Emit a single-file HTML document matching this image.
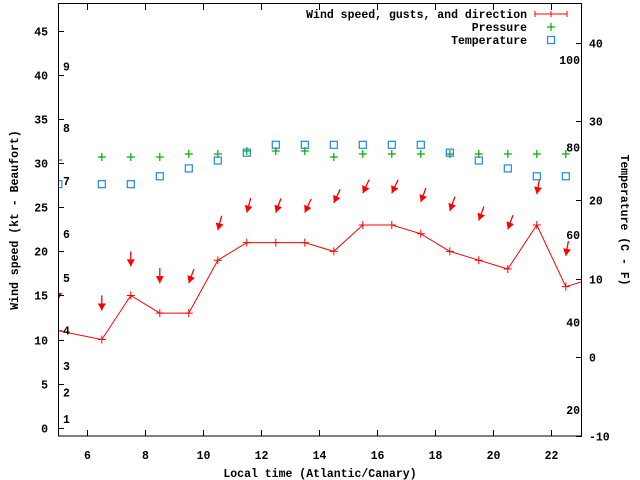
<!DOCTYPE html>
<html><head><meta charset="utf-8"><style>
html,body{margin:0;padding:0;background:#fff;}
svg{display:block;font-family:"Liberation Mono",monospace;font-weight:bold;font-size:11.5px;}
</style></head><body>
<svg id="chart" width="640" height="480" viewBox="0 0 640 480" xmlns="http://www.w3.org/2000/svg">
<defs><clipPath id="pc"><rect x="58" y="3" width="524" height="433"/></clipPath></defs>
<rect x="0" y="0" width="640" height="480" fill="#fff"/>
<g id="plot" clip-path="url(#pc)"></g>
<g id="axes"></g>
<text x="0" y="0" transform="translate(18,220) rotate(-90)" text-anchor="middle">Wind speed (kt - Beaufort)</text>
<text x="0" y="0" transform="translate(621,220) rotate(90)" text-anchor="middle">Temperature (C - F)</text>
<text x="320" y="477" text-anchor="middle">Local time (Atlantic/Canary)</text>
<g>
<text x="527" y="18" text-anchor="end">Wind speed, gusts, and direction</text>
<path d="M535 14H567M535 11V17M567 11V17M551 11V17" stroke="#f00" stroke-width="1"/>
<text x="527" y="31" text-anchor="end">Pressure</text>
<path d="M547 27H555M551 23V31" stroke="#00b000" stroke-width="1.2"/>
<text x="527" y="44" text-anchor="end">Temperature</text>
<rect x="547.5" y="36.5" width="7" height="7" fill="none" stroke="#1e88e5" stroke-width="1.2"/>
</g>
</svg>
<script>
const times = [5,6.5,7.5,8.5,9.5,10.5,11.5,12.5,13.5,14.5,15.5,16.5,17.5,18.5,19.5,20.5,21.5,22.5,23.5];
const windSpeed = [11,10,15,13,13,19,21,21,21,20,23,23,22,20,19,18,23,16,17];
const gusts = [14.5,13.3,18.3,16.4,16.4,22.4,24.4,24.4,24.4,25.5,26.6,26.6,25.6,24.6,23.5,22.5,26.5,19.5,null];
const windDir = [0,0,0,0,20,15,15,20,25,25,25,25,20,20,20,20,10,10,null];
const pressure = [1015,1016,1016,1016,1017,1017,1018,1018,1018,1016,1017,1017,1017,1017,1017,1017,1017,1017,null];
const temperature = [22,22,22,23,24,25,26,27,27,27,27,27,27,26,25,24,23,23,null];
const xTicks = [6,8,10,12,14,16,18,20,22];
const yTicks = [0,5,10,15,20,25,30,35,40,45];
const tTicks = [-10,0,10,20,30,40];
const fTicks = [20,40,60,80,100];
const beaufort = [1,4,7,11,17,22,28,34,41];

const NS='http://www.w3.org/2000/svg';
const X = t => 58.3 + (t-5)*29;
const Y = v => 427.7 - v*8.815;
const YT = c => 357.3 - c*7.87;
const YP = p => 157 - (p-1016)*3;
const plot = document.getElementById('plot');
const axes = document.getElementById('axes');
function mk(tag, attrs, parent){const e=document.createElementNS(NS,tag);for(const k in attrs)e.setAttribute(k,attrs[k]);parent.appendChild(e);return e;}

let d='';
times.forEach((t,i)=>{d+=(i?'L':'M')+X(t).toFixed(1)+' '+Y(windSpeed[i]).toFixed(1);});
const wl=mk('path',{d:d,fill:'none',stroke:'#f00','stroke-width':1},plot);


times.forEach((t,i)=>{
  const x=X(t),y=Y(windSpeed[i]);
  const p=mk('path',{d:`M${x-4} ${y}H${x+4}M${x} ${y-4}V${y+4}`,stroke:'#f00','stroke-width':1},plot);
  
  
  if(gusts[i]!==null){
    const gy=Y(gusts[i]);const a=windDir[i]*Math.PI/180;const L=15;
    const tx=x+Math.sin(a)*L, ty=gy-Math.cos(a)*L;
    const ux=Math.sin(a), uy=-Math.cos(a);
    const px=-uy, py=ux;
    const bx=x+ux*7, by=gy+uy*7;
    const g=mk('g',{},plot);
    
    
    mk('line',{x1:tx,y1:ty,x2:x,y2:gy,stroke:'#f00','stroke-width':1.3},g);
    mk('path',{d:`M${x} ${gy}L${bx+px*4} ${by+py*4}L${bx-px*4} ${by-py*4}Z`,fill:'#f00'},g);
  }
  if(pressure[i]!==null){
    const py2=YP(pressure[i]);
    const pp=mk('path',{d:`M${x-4} ${py2}H${x+4}M${x} ${py2-4}V${py2+4}`,stroke:'#00b000','stroke-width':1.2},plot);
    
    
  }
  if(temperature[i]!==null){
    const ty2=YT(temperature[i]);
    const r=mk('rect',{x:x-3.5,y:ty2-3.5,width:7,height:7,fill:'none',stroke:'#1e88e5','stroke-width':1.2},plot);
    
    
  }
});

const fr=mk('rect',{x:58.5,y:3.5,width:523,height:432.5,fill:'none',stroke:'#000','stroke-width':1},axes);


xTicks.forEach(t=>{
  const x=Math.round(X(t))+0.5;
  mk('path',{d:`M${x} 436V430M${x} 4V10`,stroke:'#000'},axes);
  const tx=mk('text',{x:x,y:459,'text-anchor':'middle'},axes);tx.textContent=t;
  
  
});
yTicks.forEach(v=>{
  const y=Math.round(Y(v))+0.5;
  mk('path',{d:`M58 ${y}H64`,stroke:'#000'},axes);
  const tx=mk('text',{x:48,y:y+4,'text-anchor':'end'},axes);tx.textContent=v;
  
  
});
tTicks.forEach(c=>{
  const y=Math.round(YT(c))+0.5;
  mk('path',{d:`M582 ${y}H576`,stroke:'#000'},axes);
  const tx=mk('text',{x:589,y:y+4,'text-anchor':'start'},axes);tx.textContent=c;
  
  
});
fTicks.forEach(f=>{
  const y=YT((f-32)*5/9);
  const tx=mk('text',{x:580,y:y+4,'text-anchor':'end'},axes);tx.textContent=f;
  
  
});
beaufort.forEach((k,i)=>{
  const tx=mk('text',{x:63,y:Y(k)+4},axes);tx.textContent=i+1;
  
  
});
</script>
</body></html>
